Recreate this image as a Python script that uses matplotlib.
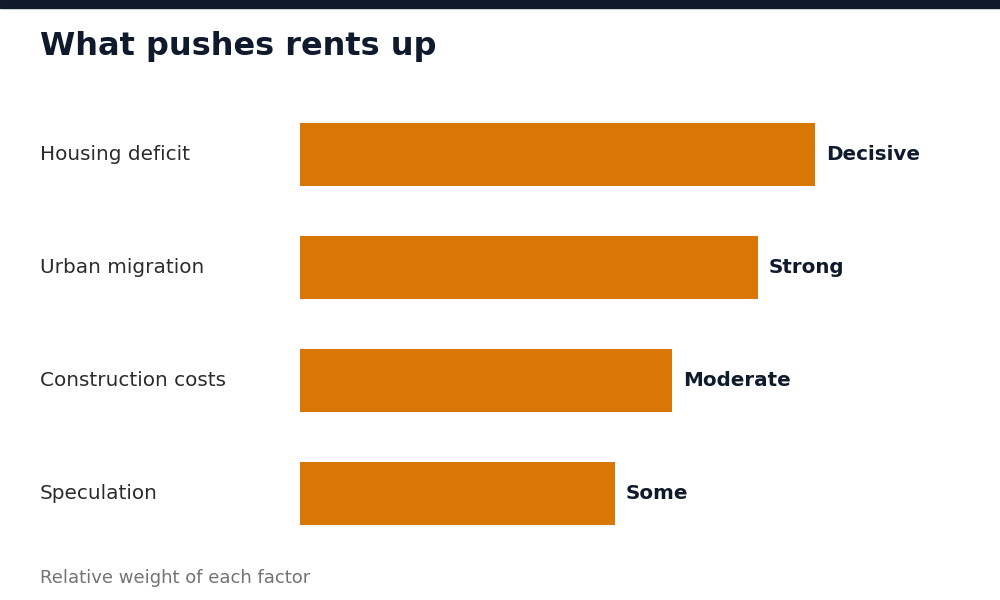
import matplotlib
matplotlib.use("Agg")
import matplotlib.pyplot as plt
from matplotlib.patches import Rectangle

categories = ["Housing deficit", "Urban migration", "Construction costs", "Speculation"]
values = [90, 80, 65, 55]
value_labels = ["Decisive", "Strong", "Moderate", "Some"]

title = "What pushes rents up"
footnote = "Relative weight of each factor"

BAR = "#D97706"
DARK = "#0F1B2D"
TEXT = "#2B2B2B"
GRAY = "#737373"

W, H = 1000, 600
fig = plt.figure(figsize=(10, 6), dpi=100)
fig.patch.set_facecolor("white")

# top band
fig.patches.append(Rectangle((0, 1 - 8 / H), 1, 8 / H, transform=fig.transFigure,
                             color=DARK, zorder=0))

fig.text(40 / W, 1 - 46.5 / H, title, fontsize=23.05, fontweight="bold", color=DARK,
         ha="left", va="center")

ax = fig.add_axes([300 / W, 1 - 549.5 / H, 572 / W, 452 / H])
y = list(range(len(categories)))
ax.barh(y, values, height=63 / 113, color=BAR, left=0)
ax.set_xlim(0, 100)
ax.set_ylim(len(categories) - 0.5, -0.5)
ax.axis("off")

for yi, v, lab, cat in zip(y, values, value_labels, categories):
    ax.annotate(lab, (v, yi), xytext=(8, -0.7), textcoords="offset points",
                ha="left", va="center", fontsize=14.3, fontweight="bold", color=DARK)
    ax.annotate(cat, (0, yi), xycoords=("figure fraction", "data"),
                xytext=(40 / W, -0.7), textcoords=("figure fraction", "offset points"),
                ha="left", va="center", fontsize=14.4, color=TEXT)

fig.text(40 / W, 1 - 577.8 / H, footnote, fontsize=12.95, color=GRAY, ha="left", va="center")

fig.savefig("out.png", dpi=100)
